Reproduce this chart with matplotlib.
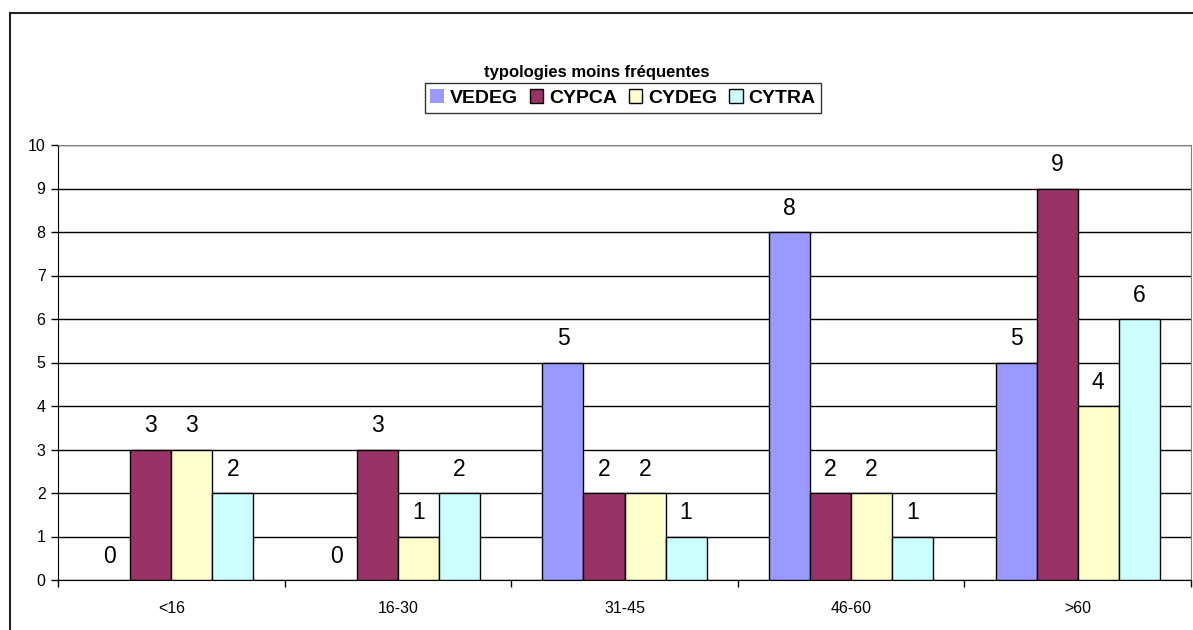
#!/usr/bin/env python3
"""Grouped bar chart: typologies moins fréquentes by age class."""
import matplotlib

matplotlib.use("Agg")
import matplotlib.pyplot as plt
from matplotlib.lines import Line2D
import numpy as np

plt.rcParams.update({"font.family": ["Liberation Sans", "DejaVu Sans"]})

categories = ["<16", "16-30", "31-45", "46-60", ">60"]
series = ["VEDEG", "CYPCA", "CYDEG", "CYTRA"]
vedeg = [0, 0, 5, 8, 5]
cypca = [3, 3, 2, 2, 9]
cydeg = [3, 1, 2, 2, 4]
cytra = [2, 2, 1, 1, 6]
colors = ["#9999FF", "#993366", "#FFFFCC", "#CCFFFF"]

W, H = 1193, 630
fig = plt.figure(figsize=(W / 100, H / 100), dpi=100)
ax = fig.add_axes([58 / W, 1 - 580 / H, (1191 - 58) / W, (580 - 145) / H])

x = np.arange(len(categories))
w = 0.181
for k, (name, vals, c) in enumerate(zip(series, [vedeg, cypca, cydeg, cytra], colors)):
    pos = x + (k - 1.5) * w
    bars = ax.bar(pos, vals, width=w, color=c, edgecolor="black", linewidth=1, label=name, zorder=3)
    for b, v in zip(bars, vals):
        if v == 0:
            b.set_linewidth(0)
    for xi, v in zip(pos, vals):
        ax.annotate(str(v), (xi, v), xytext=(0, 17), textcoords="offset points",
                    ha="center", va="center", fontsize=16.5, zorder=4)

ax.set_xlim(-0.5, len(categories) - 0.5)
ax.set_ylim(0, 10)
ax.set_yticks(range(0, 11))
ax.yaxis.grid(True, color="black", linewidth=1, zorder=0)
ax.set_axisbelow(True)
ax.tick_params(axis="y", direction="out", length=5, width=1, labelsize=11.5, pad=4)

ax.set_xticks(np.arange(-0.5, len(categories), 1.0))
ax.set_xticklabels([])
ax.set_xticks(x, minor=True)
ax.set_xticklabels(categories, minor=True)
ax.tick_params(axis="x", which="major", direction="out", length=5, width=1)
ax.tick_params(axis="x", which="minor", length=0, labelsize=11.5, pad=15)

for s in ["top", "right"]:
    ax.spines[s].set_color("#808080")
for s in ["left", "bottom"]:
    ax.spines[s].set_color("black")

fig.text(0.5, 1 - 72 / H, "typologies moins fréquentes", ha="center", va="center",
         fontsize=12, fontweight="bold")

leg = fig.legend(loc="center", bbox_to_anchor=(623 / W, 1 - 98 / H), ncol=4,
                 prop={"weight": "bold", "size": 14}, frameon=True, fancybox=False,
                 handlelength=0.7, handleheight=0.7, handletextpad=0.3,
                 columnspacing=0.6, borderpad=0.3)
leg.get_frame().set_edgecolor("black")
leg.get_frame().set_linewidth(1)

# outer chart border (left and top visible)
fig.add_artist(Line2D([10 / W, 10 / W], [0, 1 - 13 / H], color="#222222", lw=1.5, transform=fig.transFigure))
fig.add_artist(Line2D([10 / W, 1], [1 - 13 / H, 1 - 13 / H], color="#222222", lw=1.5, transform=fig.transFigure))

fig.savefig("out.png", dpi=100)
plt.close()
